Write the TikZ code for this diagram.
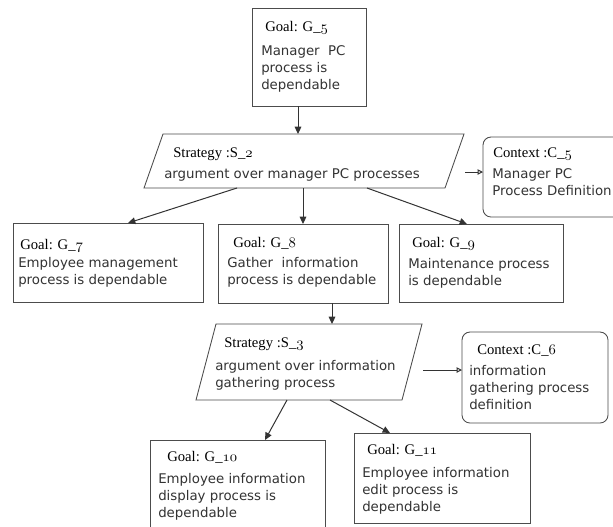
\documentclass[tikz,border=0pt]{standalone}
\usepackage{fontspec}
\newfontfamily\bodyfont{DejaVu Sans}
\newfontfamily\hdrfont{Liberation Serif}
\usetikzlibrary{arrows.meta,calc,fit}
\newcommand\bodylines[1]{\parbox[t]{7cm}{\raggedright #1}}
\newcommand\osn[1]{\legacyoldstylenums{#1}}
\tikzset{
  box/.style={draw=black!70, line width=0.65pt, inner sep=0pt, outer sep=0pt, rectangle},
  ctxbox/.style={box, rounded corners=6pt},
  frame/.style={inner sep=0pt, outer sep=0pt, rectangle},
  hdr/.style={anchor=base west, inner sep=0pt, font=\hdrfont\fontsize{11}{13}\selectfont},
  bdy/.style={anchor=base west, inner sep=0pt, text=black!80, font=\bodyfont\fontsize{10}{13}\selectfont},
  arr/.style={draw=black!80, line width=0.75pt, -{Triangle[length=5.5pt,width=5pt]}},
  carr/.style={draw=black!80, line width=0.75pt, -{Triangle[open,length=4pt,width=4pt]}},
}
\begin{document}
\begin{tikzpicture}[x=0.75pt,y=-0.75pt]
\useasboundingbox (0,0) rectangle (613,526);
\clip (0,0) rectangle (613,526);
\fill[white] (0,0) rectangle (613,526);

% boxes
\node (g5) [box, fit={(252,8) (366,106)}] {};
\node (s2) [frame, fit={(144,134) (464,188)}] {};
\draw[box] ($(s2.north west)+(19,0)$) -- (s2.north east) -- ($(s2.south east)+(-19,0)$) -- (s2.south west) -- cycle;
\node (c5) [ctxbox, fit={(483,137) (650,217)}] {};
\node (g7) [box, fit={(13,223) (203,302)}] {};
\node (g8) [box, fit={(218,224) (388,303)}] {};
\node (g9) [box, fit={(399,224) (563,302)}] {};
\node (s3) [frame, fit={(196,324) (422,400)}] {};
\draw[box] ($(s3.north west)+(20,0)$) -- (s3.north east) -- ($(s3.south east)+(-20,0)$) -- (s3.south west) -- cycle;
\node (c6) [ctxbox, fit={(462,332) (608,423)}] {};
\node (g10) [box, fit={(150,440) (325,545)}] {};
\node (g11) [box, fit={(354,433) (530,523)}] {};

% texts
\node (g5h) [hdr] at (265,31.5) {Goal: G\_\osn{5}};
\node (g5b) [bdy] at (261,55) {\bodylines{Manager\ \ PC\\process is\\dependable}};
\node (s2h) [hdr] at (173,157.5) {Strategy :S\_\osn{2}};
\node (s2b) [bdy] at (164,178) {\bodylines{argument over manager PC processes}};
\node (c5h) [hdr] at (493,157.5) {Context :C\_\osn{5}};
\node (c5b) [bdy] at (492,178) {\bodylines{Manager PC\\Process Definition}};
\node (g7h) [hdr] at (20,249.5) {Goal: G\_\osn{7}};
\node (g7b) [bdy] at (18,267) {\bodylines{Employee management\\process is dependable}};
\node (g8h) [hdr] at (233,247.5) {Goal: G\_\osn{8}};
\node (g8b) [bdy] at (227,267) {\bodylines{Gather\ \ information\\process is dependable}};
\node (g9h) [hdr] at (412,247.5) {Goal: G\_\osn{9}};
\node (g9b) [bdy] at (408,268) {\bodylines{Maintenance process\\is dependable}};
\node (s3h) [hdr] at (224,347.5) {Strategy :S\_\osn{3}};
\node (s3b) [bdy] at (215,370) {\bodylines{argument over information\\gathering process}};
\node (c6h) [hdr] at (477,354.5) {Context :C\_\osn{6}};
\node (c6b) [bdy] at (469,375) {\bodylines{information\\gathering process\\definition}};
\node (g10h) [hdr] at (167,461.5) {Goal: G\_\osn{10}};
\node (g10b) [bdy] at (158,483) {\bodylines{Employee information\\display process is\\dependable}};
\node (g11h) [hdr] at (367,454.5) {Goal: G\_\osn{11}};
\node (g11b) [bdy] at (362,477) {\bodylines{Employee information\\edit process is\\dependable}};

% connectors
\draw[arr] ($(g5.south west)+(46,0)$) -- ($(s2.north west)+(154,0)$);
\draw[carr] ($(s2.north east)+(1,38)$) -- ($(c5.north west)+(0,35)$);
\draw[arr] ($(s2.south west)+(93,0)$) -- ($(g7.north west)+(115,0)$);
\draw[arr] ($(s2.south west)+(159,0)$) -- ($(g8.north west)+(85,0)$);
\draw[arr] ($(s2.south west)+(223,0)$) -- ($(g9.north west)+(68,0)$);
\draw[arr] ($(g8.south west)+(114,0)$) -- ($(s3.north west)+(136,0)$);
\draw[carr] ($(s3.north east)+(1,46)$) -- ($(c6.north west)+(0,38)$);
\draw[arr] ($(s3.south west)+(91,0)$) -- ($(g10.north west)+(115,0)$);
\draw[arr] ($(s3.south west)+(134,0)$) -- ($(g11.north west)+(36,0)$);
\end{tikzpicture}
\end{document}
